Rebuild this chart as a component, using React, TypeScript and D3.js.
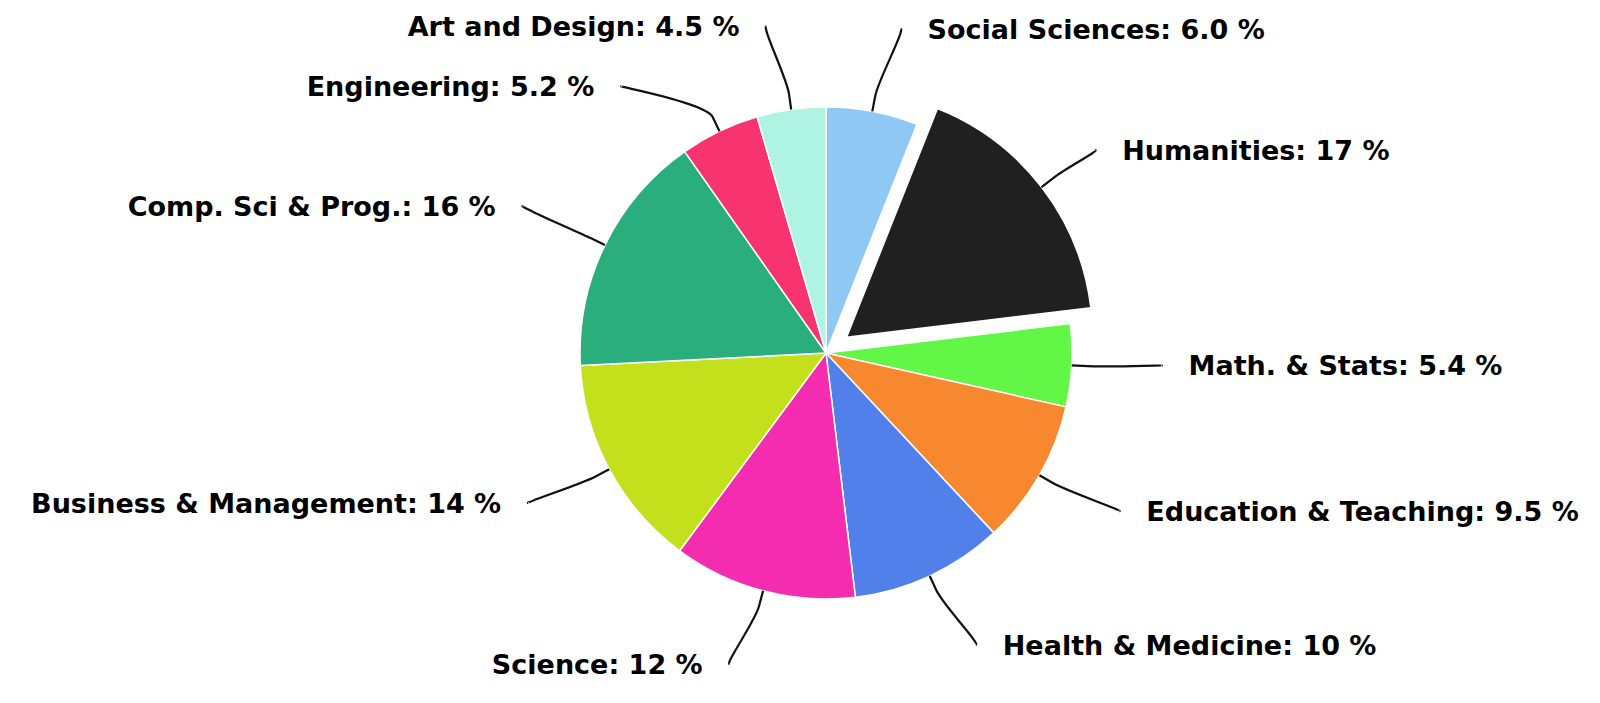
import React from 'react';
import * as d3 from 'd3';

const categories = [
  'Social Sciences',
  'Humanities',
  'Math. & Stats',
  'Education & Teaching',
  'Health & Medicine',
  'Science',
  'Business & Management',
  'Comp. Sci & Prog.',
  'Engineering',
  'Art and Design',
];
const values = [6.0, 17, 5.4, 9.5, 10, 12, 14, 16, 5.2, 4.5];
const valueLabels = ['6.0', '17', '5.4', '9.5', '10', '12', '14', '16', '5.2', '4.5'];
const colors = [
  '#90c8f4', '#202020', '#62f646', '#f7882f', '#5280ea',
  '#f42db0', '#c4e01c', '#2aae7e', '#f7346f', '#aff4e2',
];
const slicedIndex = 1;

const width = 1600;
const height = 703;
const cx = 826;
const cy = 353;
const radius = 246;
const slicedOffset = 26;
const labelRx = 322;
const labelRy = 326;
const labelCy = cy - 4;
const minGap = 60;

export default function App() {
  const arcs = d3.pie<number>().sort(null).value(d => d)(values);
  const arc = d3.arc<d3.PieArcDatum<number>>().innerRadius(0).outerRadius(radius);

  // label layout, roughly like a highcharts pie
  const labels = arcs.map((a, i) => {
    const mid = (a.startAngle + a.endAngle) / 2;
    const right = Math.sin(mid) >= 0;
    return {
      i,
      mid,
      right,
      x: cx + Math.sin(mid) * labelRx,
      y: labelCy - Math.cos(mid) * labelRy,
    };
  });
  [true, false].forEach(side => {
    const group = labels.filter(l => l.right === side).sort((a, b) => a.y - b.y);
    for (let k = 1; k < group.length; k++) {
      if (group[k].y - group[k - 1].y < minGap) {
        group[k].y = group[k - 1].y + minGap;
        const t = Math.min(1, Math.abs(group[k].y - labelCy) / labelRy);
        group[k].x = cx + (side ? 1 : -1) * labelRx * Math.sqrt(1 - t * t);
      }
    }
  });

  return (
    <div style={{ position: 'absolute', left: 0, top: 0 }}>
      <svg width={width} height={height} style={{ display: 'block', background: '#fff' }}>
        <g>
          {arcs.map((a, i) => {
            const mid = (a.startAngle + a.endAngle) / 2;
            const off = i === slicedIndex ? slicedOffset : 0;
            const tx = cx + Math.sin(mid) * off;
            const ty = cy - Math.cos(mid) * off;
            return (
              <path
                key={categories[i]}
                d={arc(a) || ''}
                transform={`translate(${tx},${ty})`}
                fill={colors[i]}
                stroke="#ffffff"
                strokeWidth={1.5}
                strokeLinejoin="round"
              />
            );
          })}
        </g>
        <g>
          {labels.map(l => {
            const off = l.i === slicedIndex ? slicedOffset : 0;
            const sx = Math.sin(l.mid);
            const sy = -Math.cos(l.mid);
            const touchX = cx + sx * (radius + off);
            const touchY = cy + sy * (radius + off);
            const breakX = cx + sx * (radius + off + 16);
            const breakY = cy + sy * (radius + off + 16);
            const dir = l.right ? 1 : -1;
            const lx = l.x + dir * 14;
            const path = `M${lx},${l.y}C${lx + dir * 5},${l.y} ${2 * breakX - touchX},${2 * breakY - touchY} ${breakX},${breakY}L${touchX},${touchY}`;
            return (
              <g key={categories[l.i]}>
                <path d={path} fill="none" stroke="#111" strokeWidth={2.2} />
                <text
                  x={l.x + dir * 41}
                  y={l.y + 10}
                  textAnchor={l.right ? 'start' : 'end'}
                  fontFamily="'DejaVu Sans', Verdana, sans-serif"
                  fontSize={27}
                  fontWeight="bold"
                  fill="#000"
                >
                  {`${categories[l.i]}: ${valueLabels[l.i]} %`}
                </text>
              </g>
            );
          })}
        </g>
      </svg>
    </div>
  );
}
